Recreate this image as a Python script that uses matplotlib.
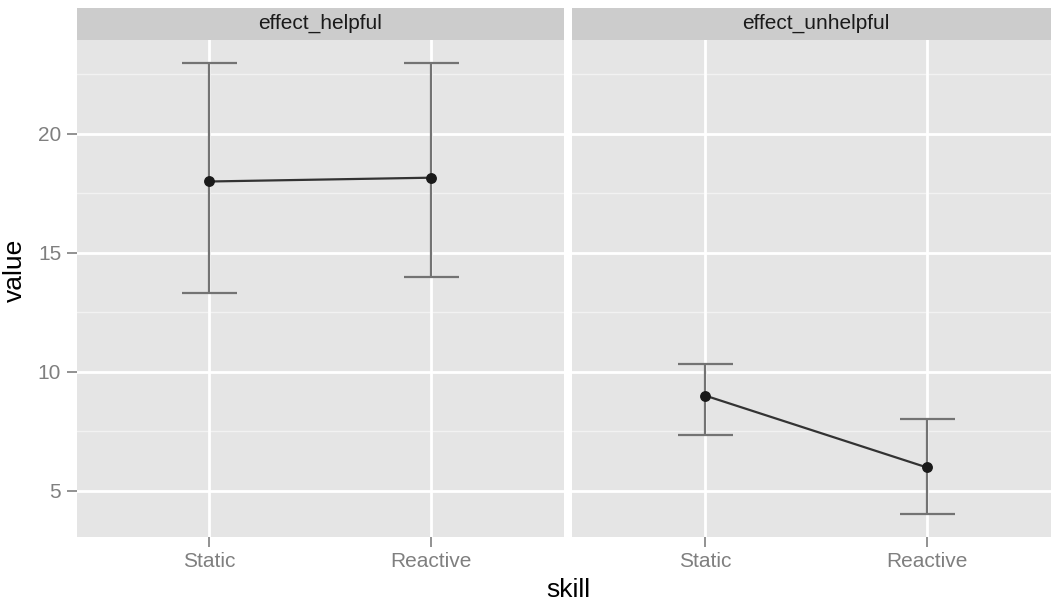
import matplotlib
matplotlib.use("Agg")
import matplotlib.pyplot as plt
import numpy as np

plt.rcParams["font.family"] = ["Liberation Sans", "DejaVu Sans"]

# data
panels = ["effect_helpful", "effect_unhelpful"]
skills = ["Static", "Reactive"]
means = {
    "effect_helpful": [18.0, 18.16],
    "effect_unhelpful": [9.0, 5.98],
}
lower = {
    "effect_helpful": [13.33, 14.0],
    "effect_unhelpful": [7.33, 4.0],
}
upper = {
    "effect_helpful": [23.0, 23.0],
    "effect_unhelpful": [10.34, 8.0],
}
y_ticks = [5, 10, 15, 20]
y_minor = [7.5, 12.5, 17.5, 22.5]

W, H = 1051, 606
fig = plt.figure(figsize=(W / 100, H / 100), dpi=100)

# shared y range with ggplot-style 5% expansion
lo = min(min(v) for v in lower.values())
hi = max(max(v) for v in upper.values())
pad = 0.05 * (hi - lo)
ylim = (lo - pad, hi + pad)

panel_left = [76.5, 572.0]
panel_w = 487.5
panel_top, panel_bot = 40.0, 537.0
strip_top = 7.5

x = np.arange(1, len(skills) + 1)

for i, name in enumerate(panels):
    ax = fig.add_axes([panel_left[i] / W, (H - panel_bot) / H,
                       panel_w / W, (panel_bot - panel_top) / H])
    ax.set_facecolor("#E5E5E5")
    for s in ax.spines.values():
        s.set_visible(False)
    ax.set_xlim(0.4, 2.6)
    ax.set_ylim(*ylim)

    for y in y_minor:
        ax.axhline(y, color="#F2F2F2", lw=1.0, zorder=0)
    for y in y_ticks:
        ax.axhline(y, color="white", lw=2.0, zorder=0.5)
    for xx in x:
        ax.axvline(xx, color="white", lw=2.0, zorder=0.5)

    m = np.array(means[name])
    l = np.array(lower[name])
    u = np.array(upper[name])
    ax.errorbar(x, m, yerr=[m - l, u - m], fmt="none", ecolor="#737373",
                elinewidth=1.6, capsize=27.5 * 0.72, capthick=1.6, zorder=2)
    ax.plot(x, m, color="#333333", lw=1.6, zorder=3)
    ax.plot(x, m, "o", color="#1a1a1a", ms=6.8, zorder=4)

    ax.set_xticks(x)
    ax.set_xticklabels(skills)
    ax.set_yticks(y_ticks)
    ax.tick_params(axis="both", colors="#7F7F7F", labelsize=15, length=7,
                   width=1.2, pad=4)
    ax.tick_params(axis="x", labelcolor="#7F7F7F")
    if i == 0:
        ax.set_yticklabels([str(t) for t in y_ticks])
    else:
        ax.tick_params(axis="y", left=False, labelleft=False)

    sax = fig.add_axes([panel_left[i] / W, (H - panel_top) / H,
                        panel_w / W, (panel_top - strip_top) / H])
    sax.set_facecolor("#CCCCCC")
    sax.set_xticks([])
    sax.set_yticks([])
    for s in sax.spines.values():
        s.set_visible(False)
    sax.text(0.5, 0.5, name, ha="center", va="center", fontsize=15,
             color="#1a1a1a", transform=sax.transAxes)

fig.text(568 / W, 1 - 590 / H, "skill", ha="center", va="center", fontsize=19)
fig.text(15 / W, 1 - 270 / H, "value", ha="center", va="center",
         rotation=90, fontsize=19)

fig.savefig("out.png", dpi=100, facecolor="white")
